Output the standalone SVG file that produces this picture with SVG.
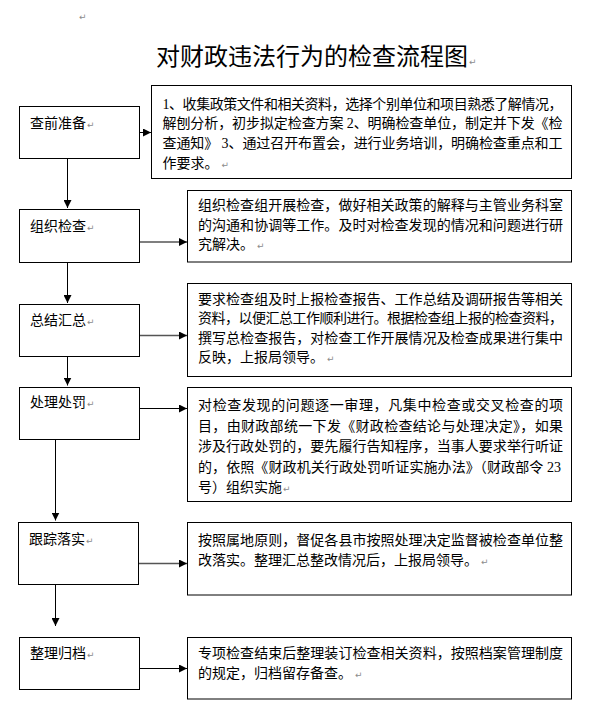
<svg xmlns="http://www.w3.org/2000/svg" width="613" height="720" viewBox="0 0 613 720">
<style>
.box{fill:#fff;stroke:#000;stroke-width:1}
.t{font-family:"Liberation Serif","Noto Sans CJK SC",sans-serif;font-size:14px;fill:#000}
.title{font-family:"Noto Sans CJK SC",sans-serif;font-size:24px;fill:#000}
.rm{font-family:"DejaVu Sans",sans-serif;font-size:9px;fill:#8c8c8c}
.c{fill:none;stroke:#000;stroke-width:1}
.cg{fill:none;stroke:#555;stroke-width:1.5}
</style>
<defs>
<marker id="ah" viewBox="0 0 8 8" refX="8" refY="4" markerWidth="8" markerHeight="8" markerUnits="userSpaceOnUse" orient="auto">
<path d="M0,0 L8,4 L0,8 z" fill="#000"/>
</marker>
</defs>
<rect width="613" height="720" fill="#fff"/>
<text class="rm" x="79" y="20">↵</text>
<text class="title" x="156" y="65">对财政违法行为的检查流程图<tspan class="rm" dx="1">↵</tspan></text>

<g id="connectors">
<line class="c" x1="139.5" y1="132.5" x2="151" y2="132.5" marker-end="url(#ah)"/>
<line class="c" x1="67.5" y1="158.5" x2="67.5" y2="208" marker-end="url(#ah)"/>
<line class="cg" x1="139.5" y1="242" x2="187" y2="242" marker-end="url(#ah)"/>
<line class="c" x1="67.5" y1="262.5" x2="67.5" y2="303" marker-end="url(#ah)"/>
<line class="cg" x1="139.5" y1="335.5" x2="187" y2="335.5" marker-end="url(#ah)"/>
<line class="c" x1="67.5" y1="356.5" x2="67.5" y2="385.5" marker-end="url(#ah)"/>
<line class="c" x1="139.5" y1="408.5" x2="187" y2="408.5" marker-end="url(#ah)"/>
<line class="c" x1="55.5" y1="439.5" x2="55.5" y2="520.5" marker-end="url(#ah)"/>
<line class="cg" x1="138.5" y1="563.5" x2="187" y2="563.5" marker-end="url(#ah)"/>
<line class="c" x1="55.5" y1="584.5" x2="55.5" y2="626" marker-end="url(#ah)"/>
<line class="c" x1="139.5" y1="668.5" x2="187" y2="668.5" marker-end="url(#ah)"/>
</g>

<g id="n1">
<rect class="box" x="19.5" y="106.5" width="120" height="52"/>
<text class="t" x="30" y="127.7">查前准备<tspan class="rm" dx="1">↵</tspan></text>
</g>
<g id="d1">
<rect class="box" x="151.5" y="85.5" width="420" height="93"/>
<text class="t" x="162.5" y="108.5" textLength="400" lengthAdjust="spacing">1、收集政策文件和相关资料，选择个别单位和项目熟悉了解情况，</text>
<text class="t" x="162.5" y="128" textLength="400" lengthAdjust="spacing">解刨分析，初步拟定检查方案 2、明确检查单位，制定并下发《检</text>
<text class="t" x="162.5" y="148" textLength="400" lengthAdjust="spacing">查通知》 3、通过召开布置会，进行业务培训，明确检查重点和工</text>
<text class="t" x="162.5" y="167.5">作要求。<tspan class="rm" dx="3">↵</tspan></text>
</g>

<g id="n2">
<rect class="box" x="19.5" y="209.5" width="120" height="53"/>
<text class="t" x="30" y="231.4">组织检查<tspan class="rm" dx="1">↵</tspan></text>
</g>
<g id="d2">
<rect class="box" x="187.5" y="190.5" width="384" height="71.5"/>
<text class="t" x="198" y="210.4" textLength="365" lengthAdjust="spacing">组织检查组开展检查，做好相关政策的解释与主管业务科室</text>
<text class="t" x="198" y="229.9" textLength="365" lengthAdjust="spacing">的沟通和协调等工作。及时对检查发现的情况和问题进行研</text>
<text class="t" x="198" y="249.4">究解决。<tspan class="rm" dx="3">↵</tspan></text>
</g>

<g id="n3">
<rect class="box" x="19.5" y="304.5" width="120" height="52"/>
<text class="t" x="30" y="325.4">总结汇总<tspan class="rm" dx="1">↵</tspan></text>
</g>
<g id="d3">
<rect class="box" x="187.5" y="283.5" width="384" height="93"/>
<text class="t" x="198" y="303.7" textLength="365" lengthAdjust="spacing">要求检查组及时上报检查报告、工作总结及调研报告等相关</text>
<text class="t" x="198" y="323.2" textLength="365" lengthAdjust="spacing">资料，以便汇总工作顺利进行。根据检查组上报的检查资料，</text>
<text class="t" x="198" y="342.7" textLength="365" lengthAdjust="spacing">撰写总检查报告，对检查工作开展情况及检查成果进行集中</text>
<text class="t" x="198" y="362.2">反映，上报局领导。<tspan class="rm" dx="3">↵</tspan></text>
</g>

<g id="n4">
<rect class="box" x="19.5" y="387.5" width="120" height="52"/>
<text class="t" x="30" y="407.4">处理处罚<tspan class="rm" dx="1">↵</tspan></text>
</g>
<g id="d4">
<rect class="box" x="187.5" y="387.5" width="384" height="114"/>
<text class="t" x="198" y="410" textLength="365" lengthAdjust="spacing">对检查发现的问题逐一审理，凡集中检查或交叉检查的项</text>
<text class="t" x="198" y="430.5" textLength="365" lengthAdjust="spacing">目，由财政部统一下发《财政检查结论与处理决定》，如果</text>
<text class="t" x="198" y="451" textLength="365" lengthAdjust="spacing">涉及行政处罚的，要先履行告知程序，当事人要求举行听证</text>
<text class="t" x="198" y="471.5" textLength="363" lengthAdjust="spacing">的，依照《财政机关行政处罚听证实施办法》（财政部令 23</text>
<text class="t" x="198" y="492">号）组织实施<tspan class="rm" dx="1">↵</tspan></text>
</g>

<g id="n5">
<rect class="box" x="18.5" y="522.5" width="120" height="62"/>
<text class="t" x="29" y="544.4">跟踪落实<tspan class="rm" dx="1">↵</tspan></text>
</g>
<g id="d5">
<rect class="box" x="187.5" y="522.5" width="384" height="72.5"/>
<text class="t" x="198" y="545.4" textLength="365" lengthAdjust="spacing">按照属地原则，督促各县市按照处理决定监督被检查单位整</text>
<text class="t" x="198" y="565.4">改落实。整理汇总整改情况后，上报局领导。<tspan class="rm" dx="3">↵</tspan></text>
</g>

<g id="n6">
<rect class="box" x="19.5" y="637.5" width="120" height="52"/>
<text class="t" x="30" y="658.1">整理归档<tspan class="rm" dx="1">↵</tspan></text>
</g>
<g id="d6">
<rect class="box" x="187.5" y="637.5" width="384" height="61.5"/>
<text class="t" x="198" y="658.4" textLength="365" lengthAdjust="spacing">专项检查结束后整理装订检查相关资料，按照档案管理制度</text>
<text class="t" x="198" y="678">的规定，归档留存备查。<tspan class="rm" dx="3">↵</tspan></text>
</g>
</svg>
